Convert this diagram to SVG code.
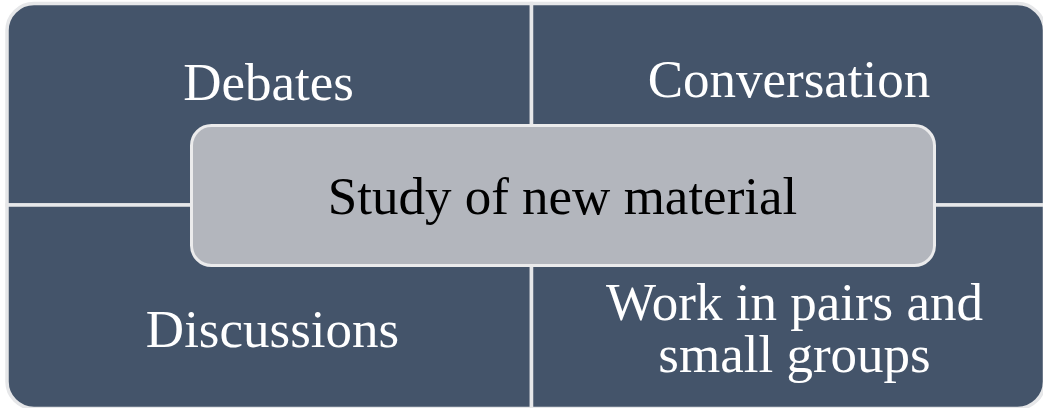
<svg xmlns="http://www.w3.org/2000/svg" width="1043" height="408" viewBox="0 0 1043 408">
  <style>
    .quad { fill: #44546A; stroke: #E6E7E9; stroke-width: 3.5; }
    .center { fill: #B3B6BD; stroke: #EBEBEC; stroke-width: 3; }
    .lbl { font-family: 'Liberation Serif', 'Times New Roman', 'DejaVu Serif', serif; font-size: 53px; text-anchor: middle; }
    .w { fill: #FFFFFF; }
    .b { fill: #000000; }
  </style>
  <rect width="1043" height="408" fill="#FFFFFF"/>
  <g id="connectors"></g>
  <g id="node-debates">
    <path class="quad" d="M7,205 V30.5 A27,27 0 0 1 34,3.5 H531.5 V205 Z"/>
    <text class="lbl w" x="268.5" y="99.5">Debates</text>
  </g>
  <g id="node-conversation">
    <path class="quad" d="M531.5,3.5 H1017.5 A27,27 0 0 1 1044.5,30.5 V205 H531.5 Z"/>
    <text class="lbl w" x="789" y="97">Conversation</text>
  </g>
  <g id="node-discussions">
    <path class="quad" d="M7,205 H531.5 V408.5 H34 A27,27 0 0 1 7,381.5 Z"/>
    <text class="lbl w" x="272.5" y="347">Discussions</text>
  </g>
  <g id="node-work">
    <path class="quad" d="M531.5,205 H1044.5 V381.5 A27,27 0 0 1 1017.5,408.5 H531.5 Z"/>
    <text class="lbl w"><tspan x="794.5" y="320">Work in pairs and</tspan><tspan x="794.5" y="372">small groups</tspan></text>
  </g>
  <g id="node-center">
    <rect class="center" x="191.5" y="125.5" width="743" height="140" rx="20" ry="20"/>
    <text class="lbl b" x="562.5" y="214">Study of new material</text>
  </g>
</svg>
